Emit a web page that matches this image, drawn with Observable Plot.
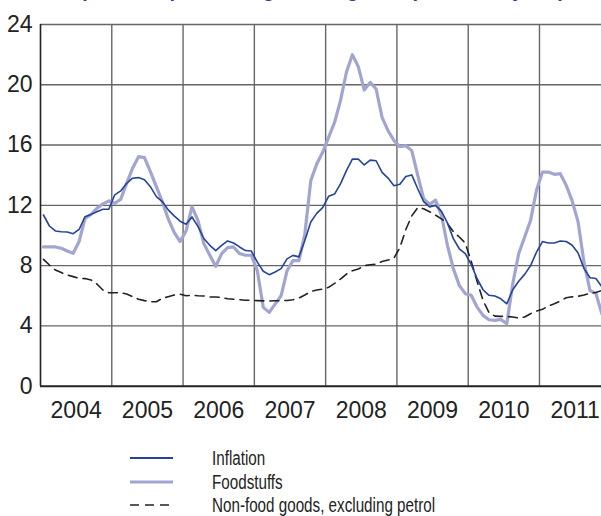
<!DOCTYPE html>
<html><head><meta charset="utf-8">
<script src="https://cdn.jsdelivr.net/npm/d3@7"></script>
<script src="https://cdn.jsdelivr.net/npm/@observablehq/plot@0.6"></script>
<style>
body{margin:0;background:#fff;width:601px;overflow:hidden;}
#title{height:6px;overflow:hidden;position:relative;width:601px}
#title span{position:absolute;left:80px;top:-20px;font:bold 20px/20px "Liberation Sans","Noto Sans",sans-serif;letter-spacing:1.2px;color:#2a3f93;white-space:nowrap}
#legend{position:relative;height:84px;width:601px;font-family:"Liberation Sans",Arial,sans-serif;font-size:20px;color:#222}
.row{position:absolute;left:0;height:24px;width:601px}
.row svg{position:absolute;left:128px;top:0}
.row span{position:absolute;left:212px;top:0;line-height:24px;white-space:nowrap;transform:scaleX(0.76);transform-origin:0 50%}
</style></head><body>
<div id="title"><span>(Annual percentage change on previous year)</span></div>
<div id="chart"></div>
<div id="legend"></div>
<script>
const years = ["2004","2005","2006","2007","2008","2009","2010","2011"];
const yTicks = [0,4,8,12,16,20,24];
const seriesNames = ["Inflation","Foodstuffs","Non-food goods, excluding petrol"];

// monthly values, Jan 2004 ... Nov 2011
const inflation = [
 11.36,10.63,10.3,10.25,10.23,10.12,10.4,11.25,11.4,11.58,11.74,11.74,
 12.7,12.96,13.46,13.8,13.84,13.7,13.24,12.58,12.25,11.7,11.3,10.95,
 10.75,11.23,10.6,9.8,9.35,9.0,9.35,9.64,9.5,9.24,9.0,8.97,
 8.23,7.63,7.4,7.58,7.8,8.45,8.68,8.58,9.67,10.9,11.47,11.85,
 12.6,12.75,13.42,14.3,15.07,15.07,14.68,15.0,14.96,14.19,13.81,13.3,
 13.4,13.92,14.02,13.1,12.25,11.9,12.0,11.6,10.83,9.79,9.12,8.8,
 8.08,7.13,6.4,6.03,5.98,5.8,5.47,6.4,6.96,7.42,8.0,8.9,
 9.6,9.5,9.5,9.63,9.6,9.35,8.84,7.8,7.2,7.15,6.6
];
const food = [
 9.24,9.24,9.24,9.15,8.97,8.82,9.6,11.14,11.4,11.8,12.1,12.3,
 12.14,12.4,13.46,14.46,15.23,15.17,14.24,13.24,12.25,11.1,10.2,9.6,
 10.3,11.9,11.0,9.46,8.69,7.96,8.8,9.2,9.24,8.8,8.69,8.69,
 7.66,5.23,4.9,5.45,6.0,7.66,8.33,8.33,10.1,13.64,14.74,15.52,
 16.51,17.5,18.95,20.83,22.0,21.2,19.65,20.16,19.72,17.84,16.96,16.3,
 15.9,15.96,15.63,14.0,12.45,12.05,12.35,11.34,9.35,7.8,6.69,6.14,
 6.03,5.25,4.7,4.41,4.37,4.43,4.15,6.8,8.79,9.9,11.0,13.0,
 14.21,14.21,14.06,14.1,13.33,12.3,10.9,8.2,6.35,6.15,4.8
];
const nonFood = [
 8.42,8.04,7.71,7.54,7.38,7.27,7.16,7.14,7.05,6.78,6.38,6.2,
 6.2,6.2,6.12,5.94,5.77,5.68,5.6,5.6,5.83,5.94,6.05,6.1,
 6.0,6.03,6.0,5.99,5.92,5.92,5.88,5.8,5.77,5.74,5.7,5.7,
 5.68,5.66,5.65,5.67,5.67,5.69,5.74,5.85,6.05,6.28,6.38,6.44,
 6.56,6.82,7.11,7.44,7.66,7.77,8.0,8.06,8.1,8.28,8.37,8.5,
 9.2,10.4,11.3,11.85,11.77,11.58,11.35,11.1,10.8,10.26,9.9,9.5,
 8.3,6.95,5.7,4.88,4.65,4.63,4.63,4.59,4.52,4.59,4.81,4.99,
 5.1,5.32,5.47,5.65,5.87,5.93,5.97,6.05,6.17,6.22,6.35
];

const inflColor = "#26439a", foodColor = "#a2a5cf", nonFoodColor = "#222";
const fontFam = '"Liberation Sans",Arial,sans-serif';

const rows = inflation.map((v,i)=>({m:i+0.5, inflation:v, food:food[i], nonfood:nonFood[i]}));
const yearStarts = years.map((d,i)=>i*12);

const chart = Plot.plot({
  width:601, height:426, marginLeft:40, marginRight:0, marginTop:18, marginBottom:46.3,
  x:{domain:[0,94.44], axis:null},
  y:{domain:[0,24], axis:null},
  style:{fontFamily:fontFam, background:"white", overflow:"visible"},
  marks:[
    Plot.ruleY(yTicks.filter(d=>d>0), {stroke:"#666", strokeWidth:1.4}),
    Plot.ruleX(yearStarts.slice(1), {stroke:"#666", strokeWidth:1.4}),
    Plot.ruleX([0], {stroke:"#222", strokeWidth:1.6}),
    Plot.ruleY([0], {stroke:"#222", strokeWidth:2}),
    Plot.line(rows,{x:"m", y:"food", stroke:foodColor, strokeWidth:3.2}),
    Plot.line(rows,{x:"m", y:"nonfood", stroke:nonFoodColor, strokeWidth:1.6, strokeDasharray:"9,6"}),
    Plot.line(rows,{x:"m", y:"inflation", stroke:inflColor, strokeWidth:1.6}),
    Plot.text(yTicks,{x:0, y:d=>d, dx:-8, textAnchor:"end", fontSize:23, fill:"#222"}),
    Plot.text(years,{x:(d,i)=>i*12+6, y:0, dy:24, fontSize:23, fill:"#222"})
  ]
});
// condense tick label glyphs horizontally around their anchor
d3.select(chart).selectAll("text").each(function(){
  const t = d3.select(this);
  if (t.attr("transform")) return;
  const x = +t.attr("x") || 0, y = +t.attr("y") || 0;
  t.attr("transform", `translate(${x},${y}) scale(0.72,1) translate(${-x},${-y})`);
});
document.getElementById("chart").appendChild(chart);

const legend = d3.select("#legend");
const styles = [
  {stroke:inflColor, width:1.8, dash:null},
  {stroke:foodColor, width:3.2, dash:null},
  {stroke:nonFoodColor, width:1.6, dash:"9,6"}
];
const tops = [14, 38, 61];
seriesNames.forEach((name,i)=>{
  const r = legend.append("div").attr("class","row").style("top", tops[i]+"px");
  const s = r.append("svg").attr("width",50).attr("height",24);
  s.append("line").attr("x1",2).attr("x2",45).attr("y1",12).attr("y2",12)
    .attr("stroke",styles[i].stroke).attr("stroke-width",styles[i].width)
    .attr("stroke-dasharray",styles[i].dash);
  r.append("span").text(name);
});
</script>
</body></html>
